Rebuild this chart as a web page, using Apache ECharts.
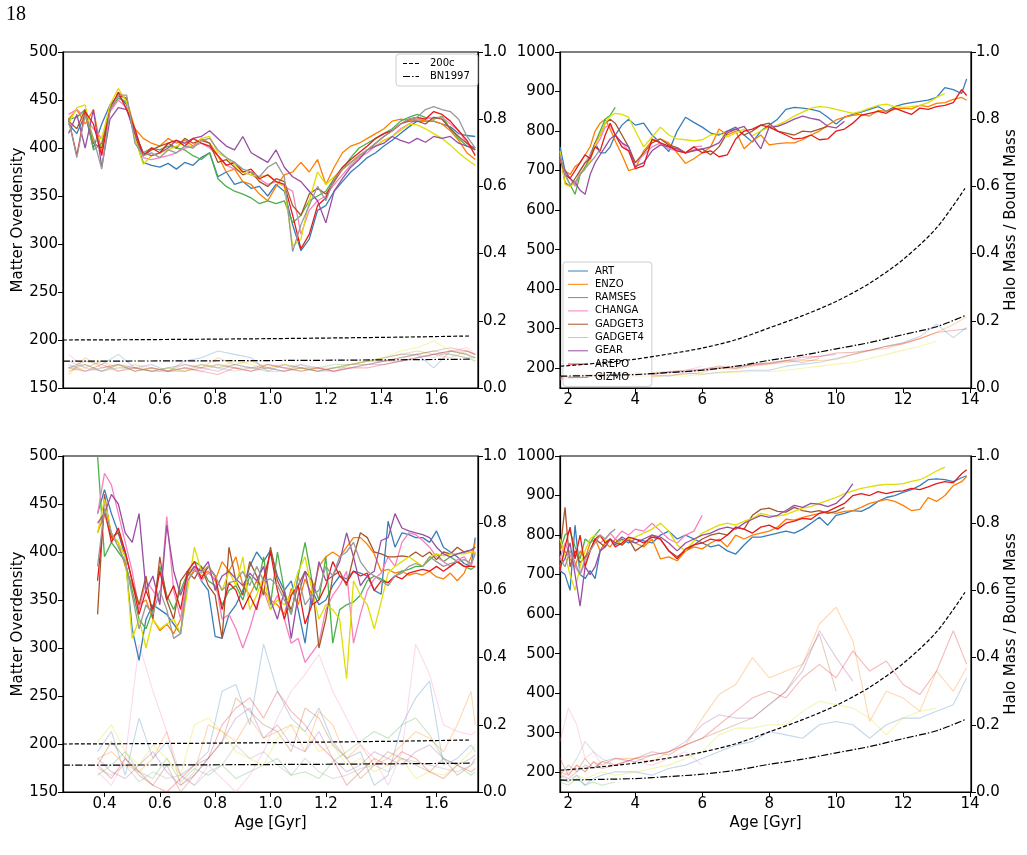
<!DOCTYPE html>
<html>
<head>
<meta charset="utf-8">
<title>Matter Overdensity vs Age</title>
<style>
  html, body { margin: 0; padding: 0; background: #fff; }
  #chart-container { width: 1027px; height: 855px; }
</style>
<script src="https://cdn.jsdelivr.net/npm/echarts@6/dist/echarts.min.js"></script>
</head>
<body>
<div id="chart-container"></div>
<script>
// codes, in legend order
const codes = ['ART', 'ENZO', 'RAMSES', 'CHANGA', 'GADGET3', 'GADGET4', 'GEAR', 'AREPO', 'GIZMO'];
const colors = ['#377eb8', '#ff7f00', '#4daf4a', '#f781bf', '#a65628', '#dede00', '#984ea3', '#e41a1c', '#999999'];

// ---- top left: ages [Gyr] and overdensity per code ----
const tlAge = [0.27,0.30,0.33,0.36,0.39,0.42,0.45,0.48,0.51,0.54, 0.57,0.60,0.63,0.66,0.69,0.72,0.75,0.78,0.81,0.84,
  0.87,0.90,0.93,0.96,0.99,1.02,1.05,1.08,1.11,1.14, 1.17,1.20,1.23,1.26,1.29,1.32,1.35,1.38,1.41,1.44,
  1.47,1.50,1.53,1.56,1.59,1.62,1.65,1.68,1.71,1.74];
const tlMain = [
  [425,415,435,400,425,445,455,445,410,385, 382,380,384,378,385,382,390,395,370,375, 362,365,358,360,350,362,355,320,293,305, 335,340,355,365,375,382,390,395,402,408, 415,422,428,428,428,425,422,415,413,412],
  [430,440,425,440,395,440,458,450,420,410, 405,402,410,405,408,402,410,405,392,375, 378,365,362,352,345,360,372,375,385,375, 388,362,380,395,402,405,410,415,420,428, 430,429,430,428,428,425,418,408,395,388],
  [430,432,440,398,405,440,452,448,415,395, 400,398,402,400,398,392,388,395,368,360, 355,352,348,342,345,342,345,322,330,345, 350,355,368,378,390,400,405,410,415,420, 428,432,435,432,430,433,420,410,402,398],
  [435,440,432,420,410,438,450,442,418,390, 388,390,392,395,400,402,405,400,392,382, 378,375,372,368,362,365,360,355,310,335, 345,350,362,372,382,390,395,402,408,412, 420,425,430,430,432,432,425,418,405,400],
  [428,420,440,405,400,442,455,452,412,392, 398,402,405,400,410,405,408,405,385,388, 380,372,375,365,360,368,365,340,330,352, 358,352,365,378,385,392,398,405,412,418, 425,428,428,425,432,430,420,412,405,398],
  [425,442,445,408,410,445,462,448,410,383, 392,395,398,402,405,400,410,412,395,390, 382,375,372,370,372,365,360,298,305,345, 375,362,370,378,385,392,398,402,408,412, 418,425,424,420,415,410,403,395,388,382],
  [415,435,400,440,380,430,442,440,415,395, 392,395,400,408,405,410,412,418,410,402, 398,412,395,390,385,398,380,370,365,355, 345,322,355,368,380,388,398,402,405,412, 408,405,410,406,412,410,412,405,402,400],
  [430,392,438,425,392,440,458,440,420,392, 400,395,405,408,402,410,405,402,392,382, 385,375,378,368,372,365,362,330,295,310, 340,348,368,380,388,395,402,410,415,418, 425,430,432,430,438,435,428,418,408,392],
  [430,390,435,410,378,440,455,455,405,392, 395,390,398,395,402,400,408,410,398,390, 385,378,375,370,380,385,370,292,320,340, 360,345,368,378,385,392,398,405,412,418, 425,430,432,440,443,440,438,430,412,400]
];
// halo mass / bound mass (right axis)
const tlFadeAge = [0.27,0.33,0.39,0.45,0.51,0.57,0.63,0.69,0.75,0.81,0.87,0.93,0.99,1.05,1.11,1.17,1.23,1.29,1.35,1.41,1.47,1.53,1.59,1.65,1.71,1.74];
const tlFade = [
  [.06,.08,.07,.10,.06,.07,.05,.08,.09,.11,.10,.09,.05,.07,.06,.05,.06,.07,.08,.09,.10,.10,.06,.11,.10,.09],
  [.04,.09,.06,.07,.05,.06,.05,.07,.06,.09,.07,.08,.06,.07,.06,.05,.05,.07,.08,.09,.10,.11,.10,.09,.11,.10],
  [.05,.07,.05,.06,.06,.05,.06,.05,.07,.06,.07,.06,.05,.05,.06,.06,.07,.07,.08,.08,.09,.10,.11,.10,.09,.08],
  [.10,.06,.08,.05,.07,.06,.05,.06,.05,.07,.06,.06,.07,.06,.05,.06,.05,.06,.07,.08,.09,.10,.09,.11,.12,.10],
  [.06,.07,.05,.07,.05,.06,.05,.05,.06,.07,.06,.05,.06,.05,.06,.05,.06,.07,.07,.08,.09,.10,.11,.12,.11,.10],
  [.05,.06,.08,.06,.07,.05,.06,.05,.07,.06,.08,.07,.06,.07,.05,.06,.06,.07,.08,.09,.11,.12,.14,.11,.10,.08],
  [.07,.05,.06,.07,.06,.05,.06,.07,.06,.05,.07,.06,.06,.05,.07,.06,.05,.06,.07,.07,.08,.09,.10,.11,.10,.09],
  [.06,.05,.07,.05,.06,.05,.05,.06,.05,.04,.06,.05,.07,.06,.05,.06,.05,.06,.06,.07,.08,.09,.10,.11,.11,.10],
  [.08,.06,.05,.07,.05,.06,.05,.06,.07,.06,.05,.06,.07,.06,.07,.05,.06,.06,.07,.08,.08,.09,.10,.10,.09,.09]
];

// ---- top right ----
const trAge = [1.75,1.9,2.05,2.2,2.35,2.5,2.65,2.8,2.95,3.1, 3.25,3.4,3.6,3.8,4.0,4.25,4.5,4.75,5.0,5.25,
  5.5,5.75,6.0,6.25,6.5,6.75,7.0,7.25,7.5,7.75, 8.0,8.25,8.5,8.75,9.0,9.25,9.5,9.75,10.0,10.25,
  10.5,10.75,11.0,11.25,11.5,11.75,12.0,12.25,12.5,12.75, 13.0,13.25,13.5,13.75,13.9];
const trMain = [
  [760,700,680,665,690,705,740,770,745,745, 760,790,815,830,815,820,790,770,748,800, 835,822,810,795,790,800,810,790,772,800, 815,830,855,860,858,855,850,835,818,835, 842,848,855,862,850,862,868,872,875,878, 885,910,905,895,932],
  [725,700,690,710,720,740,760,800,820,830, 805,775,740,700,705,750,775,780,770,745, 718,730,745,760,805,790,800,755,775,790, 765,768,770,770,778,790,800,815,828,835, 840,842,838,852,850,855,858,856,865,862, 870,872,880,885,878],
  [735,690,665,640,690,710,730,770,800,830, 840,860],
  [730,690,680,660,700,720,740,760,780,810, 815,790,770,750,720,740,760,770,755,750, 745,760,762],
  [740,670,660,680,700,720,730,770,790,820, 830,820,790,760,720,745,770,780,765,758, 745,752,755,740,760,795,805,790,800,815, 820,800,795,790,800,798,805,812],
  [750,665,660,670,690,705,725,765,790,820, 838,845,842,835,800,760,785,810,790,780, 778,775,778,790,795,785,795,805,788,800, 810,815,825,838,848,858,862,860,855,850, 845,850,858,865,868,862,860,862,865,872, 885,895],
  [730,700,680,670,650,640,690,720,740,760, 780,790,770,760,710,720,750,765,760,755, 745,750,755,760,770,800,805,812,785,755, 810,812,820,830,838,832,828,812,808,825],
  [735,690,680,700,720,740,730,760,750,790, 820,790,760,750,705,712,780,770,762,750, 745,760,745,750,735,740,780,800,805,815, 810,800,790,780,782,790,778,780,800,805, 820,840,845,850,845,858,850,842,858,855, 862,865,872,905,890],
  [740,690,665,670,690,705,720,735,755]
];
const trFadeAge = [1.75,2.0,2.25,2.5,2.75,3.0,3.4,4.0,4.5,5.0,5.5,6.0,6.5,7.0,7.5,8.0,8.5,9.0,9.5,10.0,10.5,11.0,11.5,12.0,12.5,13.0,13.5,13.9];
const trFade = [
  [.035,.029,.041,.033,.038,.045,.035,.038,.039,.035,.045,.041,.047,.049,.053,.053,.065,.071,.076,.088,.100,.112,.124,.135,.153,.190,.150,.180],
  [.029,.026,.033,.038,.041,.035,.039,.035,.033,.038,.041,.047,.059,.056,.065,.071,.076,.082,.082,.085,.100,.112,.118,.132,.147,.165,.188,.212],
  [.033,.029,.026,.035,.038,.033,.035],
  [.026,.033,.035,.031,.038,.041,.047,.045,.041,.047,.053,.065],
  [.035,.033,.038,.041,.035,.039,.038,.041,.045,.049,.053,.056,.065,.059,.071,.076,.082,.076,.088],
  [.033,.029,.035,.033,.031,.033,.038,.033,.035,.038,.035,.041,.045,.047,.049,.049,.053,.059,.065,.071,.076,.088,.100,.112,.124,.139],
  [.029,.026,.033,.031,.035,.038,.041,.035,.041,.047,.049,.056,.061,.059,.071,.073,.080,.085,.094,.100],
  [.031,.035,.033,.038,.041,.035,.038,.045,.041,.047,.049,.053,.059,.065,.068,.073,.082,.092,.094,.104,.106,.112,.124,.132,.147,.165,.171,.176],
  [.024,.029,.026,.033,.029,.035]
];

// ---- bottom left ----
const blAge = [0.375,0.4,0.425,0.45,0.475,0.5,0.525,0.55,0.575,0.6, 0.625,0.65,0.675,0.7,0.725,0.75,0.775,0.8,0.825,0.85,
  0.875,0.9,0.925,0.95,0.975,1.0,1.025,1.05,1.075,1.1, 1.125,1.15,1.175,1.2,1.225,1.25,1.275,1.3,1.325,1.35,
  1.375,1.4,1.425,1.45,1.475,1.5,1.525,1.55,1.575,1.6, 1.625,1.65,1.675,1.7,1.725,1.74];
const blMain = [
  [440,465,440,420,395,320,287,330,345,340, 335,325,315,375,385,370,360,312,310,335, 345,360,385,400,390,402,375,360,370,340, 305,360,345,350,365,375,372,380,378,375, 360,356,432,405,420,418,415,415,410,422, 405,400,395,388,385,415],
  [420,440,415,410,385,365,345,350,330,318, 325,315,330,370,382,375,380,370,390,380, 395,365,355,370,360,350,345,335,362,345, 372,355,385,395,400,395,405,415,415,408, 398,380,382,378,380,376,378,376,380,374, 372,378,370,378,395,410],
  [500,395,410,400,390,360,330,320,340,385, 355,340,360,378,390,385,370,365,345,360, 365,350,375,360,395,345,400,360,335,375, 410,370,350,395,305,340,345,348,355,370, 375,372,368,375,380,382,385,385,392,398, 390,395,390,385,382,385],
  [440,482,470,440,410,380,340,370,360,348, 437,360,330,375,385,370,378,372,330,335, 320,300,320,345,360,340,355,330,305,310, 285,295,305,340,355,365,380,305,335,360, 372,378,395,385,410,420,418,412,405,395, 390,385,392,395,385,400],
  [335,460,415,420,400,370,345,375,330,395, 350,330,370,380,372,385,365,355,310,405, 370,355,390,375,355,405,370,355,340,365, 380,370,300,330,375,380,365,395,420,415, 400,398,395,395,396,395,400,395,400,392, 400,398,405,400,402,405],
  [420,455,420,410,395,310,330,300,330,320, 325,330,315,360,405,380,385,375,360,380, 365,395,340,355,375,340,350,345,355,380, 395,360,330,345,340,330,268,370,355,345, 320,348,378,385,390,395,390,385,395,398, 396,398,398,398,400,400],
  [430,440,460,450,420,410,440,360,375,345, 428,380,355,375,385,380,390,360,375,380, 372,365,378,370,385,350,330,360,310,355, 380,345,390,370,375,390,420,395,365,375, 380,412,415,440,425,422,420,418,415,405, 398,395,398,400,402,405],
  [370,445,410,425,400,370,335,360,340,380, 350,365,340,380,390,372,385,375,340,368, 360,340,355,340,372,400,360,330,355,365, 325,345,350,365,390,375,368,380,375,378, 360,370,368,375,372,378,380,382,380,385, 380,385,390,385,385,385],
  [385,445,420,405,390,355,320,345,335,360, 340,310,315,370,380,378,385,375,360,368, 370,380,365,385,370,372,365,350,335,375, 345,355,360,385,375,395,400,410,390,380, 375,370,365,375,378,385,388,385,395,390, 385,388,390,392,388,398]
];
const blFadeAge = [0.375,0.425,0.475,0.525,0.575,0.625,0.675,0.725,0.775,0.825,0.875,0.925,0.975,1.025,1.075,1.125,1.175,1.225,1.275,1.325,1.375,1.425,1.475,1.525,1.575,1.625,1.675,1.725,1.74];
const blFade = [
  [.12,.18,.05,.22,.10,.15,.05,.08,.12,.30,.32,.20,.44,.30,.22,.18,.25,.15,.10,.12,.02,.05,.20,.28,.33,.08,.10,.14,.12],
  [.10,.12,.08,.06,.10,.18,.02,.06,.20,.18,.15,.22,.16,.18,.20,.12,.24,.20,.10,.14,.08,.10,.14,.18,.16,.12,.20,.30,.20],
  [.05,.08,.12,.06,.04,.10,.03,.07,.05,.08,.04,.06,.08,.10,.05,.06,.04,.09,.12,.15,.18,.16,.20,.22,.17,.10,.08,.05,.06],
  [.06,.02,.10,.44,.30,.18,.05,.02,.08,.04,.00,.05,.12,.22,.30,.35,.41,.30,.22,.14,.10,.02,.12,.44,.35,.20,.18,.17,.18],
  [.08,.15,.10,.05,.02,.08,.00,.05,.10,.15,.28,.24,.20,.18,.12,.25,.22,.14,.10,.04,.08,.12,.10,.08,.06,.10,.05,.08,.10],
  [.15,.20,.12,.08,.14,.10,.05,.20,.22,.18,.12,.10,.08,.16,.20,.18,.12,.14,.08,.10,.06,.08,.10,.04,.06,.05,.08,.12,.14],
  [.10,.06,.04,.08,.12,.06,.02,.05,.10,.15,.22,.25,.16,.20,.14,.12,.18,.10,.06,.08,.12,.10,.08,.12,.14,.10,.08,.10,.11],
  [.08,.04,.10,.06,.02,.00,.04,.08,.10,.20,.25,.28,.22,.30,.24,.20,.14,.10,.02,.06,.10,.08,.12,.10,.06,.04,.08,.06,.07],
  [.07,.05,.08,.03,.06,.04,.05,.02,.06,.08,.14,.10,.12,.08,.05,.10,.06,.04,.05,.07,.08,.06,.10,.09,.08,.07,.06,.08,.09]
];

// ---- bottom right (ages as top right) ----
const brMain = [
  [710,700,660,825,700,690,710,690,760,780, 790,775,790,780,790,785,780,800,810,790, 800,790,780,770,775,760,752,775,795,795, 800,805,810,805,815,830,845,825,850,855, 862,860,870,885,895,900,908,915,925,940, 942,940,935,945,950],
  [720,760,740,720,760,740,780,790,760,780, 770,790,775,790,780,770,790,740,745,735, 760,770,765,780,790,770,800,790,800,805, 810,820,840,838,845,850,855,858,855,860, 862,870,880,885,890,885,875,862,865,895, 885,900,925,935,948],
  [760,800,810,770,740,790,780,800,815],
  [740,780,750,720,700,730,760,790,780,790, 805,790,810,800,815,810,830,810,790,780, 800,810,850],
  [760,870,720,760,730,745,760,790,780,770, 790,780,775,790,760,775,800,790,760,745, 760,775,790,800,805,800,820,815,850,865, 868,860,858,870,862,858,862,855,860,870],
  [790,750,700,660,720,760,790,800,795,785, 790,780,785,790,795,805,815,830,810,775, 760,785,805,815,825,830,825,835,842,855, 850,848,852,860,868,872,880,888,895,905, 912,918,922,926,928,928,930,936,940,950, 962,972],
  [720,740,780,700,620,720,700,720,760,770, 790,780,795,785,780,790,800,795,780,760, 780,790,800,805,815,820,815,830,840,850, 845,850,862,875,870,880,878,872,880,900, 930],
  [710,770,820,740,800,720,760,790,800,780, 790,770,780,795,790,780,795,790,760,740, 765,775,780,790,785,800,820,815,805,820, 825,815,830,835,842,840,855,860,870,880, 900,905,900,910,905,910,912,918,915,922, 930,935,932,955,965],
  [740,720,760,730,700,740,760,780,800,790,805,815]
];
const brFade = [
  [.04,.03,.05,.02,.04,.05,.06,.06,.05,.07,.08,.10,.12,.14,.15,.18,.17,.16,.20,.21,.20,.16,.20,.22,.22,.24,.26,.34],
  [.06,.05,.08,.06,.09,.08,.10,.10,.09,.12,.14,.22,.29,.32,.40,.34,.36,.38,.50,.55,.45,.21,.30,.28,.24,.36,.30,.37],
  [.03,.02,.04,.02,.03,.02,.03],
  [.15,.25,.20,.10,.12,.08,.10,.09,.08,.10,.12,.08],
  [.05,.08,.06,.10,.07,.09,.08,.10,.12,.11,.14,.16,.18,.20,.22,.26,.30,.38,.47,.30],
  [.04,.03,.05,.04,.05,.06,.05,.06,.07,.08,.10,.12,.17,.19,.19,.20,.20,.24,.27,.26,.25,.22,.17,.22,.24,.25],
  [.05,.04,.06,.08,.07,.09,.10,.09,.11,.12,.15,.20,.23,.22,.22,.26,.30,.36,.48,.40,.33],
  [.10,.05,.08,.06,.09,.07,.08,.10,.11,.12,.14,.16,.20,.24,.28,.30,.28,.34,.38,.34,.42,.36,.39,.32,.29,.36,.48,.38],
  [.04,.06,.10,.15,.12,.10,.08]
];

// threshold overdensities (left axis)
const refAgeL = [0.25, 0.5, 0.75, 1.0, 1.25, 1.5, 1.72];
const ref200L = [200, 200.3, 200.8, 201.4, 202.2, 203.1, 204.2];
const refBNL = [178, 178.1, 178.3, 178.6, 179, 179.5, 180];
const refAgeR = [1.76, 2.5, 3, 4, 5, 6, 7, 8, 9, 10, 11, 12, 13, 13.85];
const ref200R = [205, 210, 214, 223, 236, 251, 272, 302, 333, 369, 415, 475, 555, 655];
const refBNR = [180, 181, 182, 184, 189, 195, 205, 220, 233, 249, 265, 285, 305, 333];

// tick labels
const ticksAgeL = [0.4, 0.6, 0.8, 1.0, 1.2, 1.4, 1.6];
const ticksAgeR = [2, 4, 6, 8, 10, 12, 14];
const ticksOdL = [150, 200, 250, 300, 350, 400, 450, 500];
const ticksOdR = [200, 300, 400, 500, 600, 700, 800, 900, 1000];
const ticksFrac = [0, 0.2, 0.4, 0.6, 0.8, 1.0];

const font = 'DejaVu Sans, sans-serif';

// legend line icons (solid, dashed, dash-dot)
const iconSolid = 'path://M0,0h20v1h-20z';
const iconDash = 'path://M0,0h4v1h-4z M6,0h4v1h-4z M12,0h4v1h-4z';
const iconDashDot = 'path://M0,0h7v1h-7z M9,0h1.5v1h-1.5z M12.5,0h3.5v1h-3.5z';

function pairs(xs, ys) {
  const out = [];
  for (let i = 0; i < ys.length && i < xs.length; i++) out.push([xs[i], ys[i]]);
  return out;
}

function xAxisCfg(g, min, max, ticks, digits, name) {
  return {
    type: 'value', gridIndex: g, min: min, max: max,
    name: name || '', nameLocation: 'middle', nameGap: 24,
    nameTextStyle: { fontSize: 15, color: '#000', fontFamily: font },
    axisLine: { show: true, onZero: false, lineStyle: { color: '#000', width: 1.2 } },
    axisTick: { show: true, length: 5, customValues: ticks, lineStyle: { color: '#000', width: 1 } },
    axisLabel: { customValues: ticks, fontSize: 15, color: '#000', fontFamily: font, margin: 5,
      formatter: v => v.toFixed(digits) },
    splitLine: { show: false }
  };
}

function yAxisCfg(g, pos, min, max, ticks, digits, name, gap) {
  return {
    type: 'value', gridIndex: g, position: pos, min: min, max: max,
    name: name || '', nameLocation: 'middle', nameGap: gap || 0, nameRotate: 90,
    nameTextStyle: { fontSize: 15, color: '#000', fontFamily: font },
    axisLine: { show: true, onZero: false, lineStyle: { color: '#000', width: 1.2 } },
    axisTick: { show: true, length: 5, customValues: ticks, lineStyle: { color: '#000', width: 1 } },
    axisLabel: { customValues: ticks, fontSize: 15, color: '#000', fontFamily: font, margin: 5,
      formatter: v => v.toFixed(digits) },
    splitLine: { show: false }
  };
}

const series = [];

function addPanel(g, age, main, fadeAge, fade, refAge, r200, rBN) {
  const yl = g * 2, yr = g * 2 + 1;
  main.forEach((vals, k) => {
    series.push({
      name: codes[k], type: 'line', xAxisIndex: g, yAxisIndex: yl,
      symbol: 'none', silent: true, z: 3,
      lineStyle: { color: colors[k], width: 1.3 }, itemStyle: { color: colors[k] },
      data: pairs(age, vals)
    });
  });
  fade.forEach((vals, k) => {
    series.push({
      name: codes[k] + ' mass', type: 'line', xAxisIndex: g, yAxisIndex: yr,
      symbol: 'none', silent: true, z: 2,
      lineStyle: { color: colors[k], width: 1.1, opacity: 0.3 },
      data: pairs(fadeAge, vals)
    });
  });
  series.push({
    name: '200c', type: 'line', xAxisIndex: g, yAxisIndex: yl, symbol: 'none', silent: true, smooth: 0.3, z: 4,
    lineStyle: { color: '#000', width: 1.2, type: [4, 2] }, itemStyle: { color: '#000' },
    data: pairs(refAge, r200)
  });
  series.push({
    name: 'BN1997', type: 'line', xAxisIndex: g, yAxisIndex: yl, symbol: 'none', silent: true, smooth: 0.3, z: 4,
    lineStyle: { color: '#000', width: 1.2, type: [7, 2, 1.5, 2] }, itemStyle: { color: '#000' },
    data: pairs(refAge, rBN)
  });
}

addPanel(0, tlAge, tlMain, tlFadeAge, tlFade, refAgeL, ref200L, refBNL);
addPanel(1, trAge, trMain, trFadeAge, trFade, refAgeR, ref200R, refBNR);
addPanel(2, blAge, blMain, blFadeAge, blFade, refAgeL, ref200L, refBNL);
addPanel(3, trAge, brMain, trFadeAge, brFade, refAgeR, ref200R, refBNR);

var dom = document.getElementById('chart-container');
var myChart = echarts.init(dom, null, { renderer: 'canvas' });

var gridBox = { show: true, borderColor: '#000', borderWidth: 1.2, backgroundColor: 'transparent' };

var option = {
  animation: false,
  backgroundColor: '#fff',
  graphic: [{
    type: 'text', left: 6, top: 5,
    style: { text: '18', fontSize: 20, fontFamily: 'Liberation Serif, serif', fill: '#000' }
  }],
  grid: [
    Object.assign({ left: 63, top: 52, width: 415, height: 336 }, gridBox),
    Object.assign({ left: 560, top: 52, width: 411, height: 336 }, gridBox),
    Object.assign({ left: 63, top: 456, width: 415, height: 336 }, gridBox),
    Object.assign({ left: 560, top: 456, width: 411, height: 336 }, gridBox)
  ],
  xAxis: [
    xAxisCfg(0, 0.25, 1.75, ticksAgeL, 1),
    xAxisCfg(1, 1.75, 14.03, ticksAgeR, 0),
    xAxisCfg(2, 0.25, 1.75, ticksAgeL, 1, 'Age [Gyr]'),
    xAxisCfg(3, 1.75, 14.03, ticksAgeR, 0, 'Age [Gyr]')
  ],
  yAxis: [
    yAxisCfg(0, 'left', 150, 500, ticksOdL, 0, 'Matter Overdensity', 37),
    yAxisCfg(0, 'right', 0, 1, ticksFrac, 1),
    yAxisCfg(1, 'left', 150, 1000, ticksOdR, 0),
    yAxisCfg(1, 'right', 0, 1, ticksFrac, 1, 'Halo Mass / Bound Mass', 31),
    yAxisCfg(2, 'left', 150, 500, ticksOdL, 0, 'Matter Overdensity', 37),
    yAxisCfg(2, 'right', 0, 1, ticksFrac, 1),
    yAxisCfg(3, 'left', 150, 1000, ticksOdR, 0),
    yAxisCfg(3, 'right', 0, 1, ticksFrac, 1, 'Halo Mass / Bound Mass', 31)
  ],
  legend: [{
    data: codes.map(c => ({ name: c, icon: iconSolid })),
    orient: 'vertical', left: 563, top: 262,
    itemWidth: 20, itemHeight: 1.6, itemGap: 3.3,
    padding: [4, 8, 4, 5],
    backgroundColor: 'rgba(255,255,255,0.8)', borderColor: '#ccc', borderWidth: 1, borderRadius: 3,
    textStyle: { fontSize: 10, color: '#000', fontFamily: font, lineHeight: 10, padding: [0, 0, 0, 2] },
    selectedMode: false
  }, {
    data: [{ name: '200c', icon: iconDash }, { name: 'BN1997', icon: iconDashDot }],
    orient: 'vertical', left: 396, top: 54,
    itemWidth: 16, itemHeight: 1.4, itemGap: 2,
    padding: [4, 8, 4, 7],
    backgroundColor: 'rgba(255,255,255,0.8)', borderColor: '#ccc', borderWidth: 1, borderRadius: 3,
    textStyle: { fontSize: 10, color: '#000', fontFamily: font, lineHeight: 11, padding: [0, 0, 0, 6] },
    selectedMode: false
  }],
  series: series
};

if (option && typeof option === 'object') {
  myChart.setOption(option);
}

window.addEventListener('resize', myChart.resize);
</script>
</body>
</html>
